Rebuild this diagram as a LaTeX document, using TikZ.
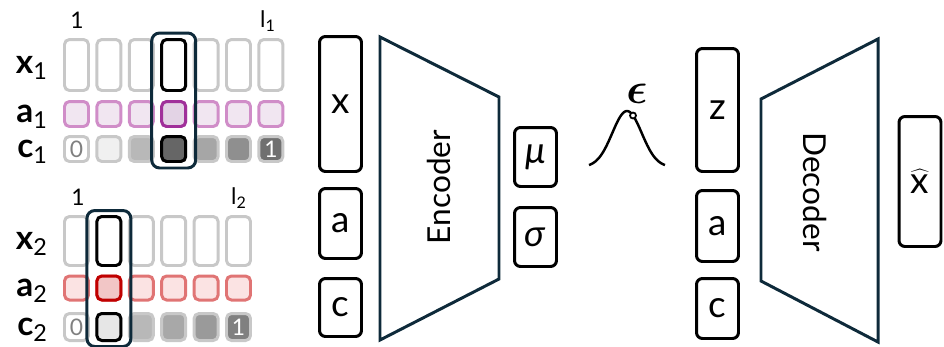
\documentclass[tikz,border=0pt]{standalone}
\usepackage{fontspec}
\setmainfont{Lato}
\usetikzlibrary{fit}

\definecolor{cellgray}{HTML}{C8C8C8}
\definecolor{navy}{HTML}{0E2A3A}
\definecolor{plum}{HTML}{D08DC8}
\definecolor{plumfill}{HTML}{F1E6F1}
\definecolor{plumdark}{HTML}{A0309A}
\definecolor{plumsel}{HTML}{E3D3E5}
\definecolor{rose}{HTML}{E07474}
\definecolor{rosefill}{HTML}{FBE3E3}
\definecolor{rosedark}{HTML}{C00000}
\definecolor{rosesel}{HTML}{F2C6C6}
\definecolor{numgray}{HTML}{808080}
% shades of the c rows
\definecolor{ca}{HTML}{FFFFFF}
\definecolor{cb}{HTML}{F0F0F0}
\definecolor{cc}{HTML}{B8B8B8}
\definecolor{cd}{HTML}{666666}
\definecolor{ce}{HTML}{A6A6A6}
\definecolor{cf}{HTML}{8F8F8F}
\definecolor{cg}{HTML}{707070}
\definecolor{db}{HTML}{E6E6E6}
\definecolor{dc}{HTML}{B8B8B8}
\definecolor{dd}{HTML}{A8A8A8}
\definecolor{de}{HTML}{9A9A9A}
\definecolor{df}{HTML}{808080}

\tikzset{
  cell/.style={draw=cellgray, fill=white, line width=1.7pt, rounded corners=2.8pt,
    minimum width=0.48cm, inner sep=0pt},
  bigbox/.style={draw=black, line width=1.7pt, rounded corners=3.4pt, minimum width=0.84cm,
    inner sep=0pt, font=\fontsize{21}{25}\selectfont},
  selframe/.style={draw=navy, line width=1.7pt, rounded corners=4.5pt, inner xsep=0.17cm},
  rowlabel/.style={font=\fontsize{19}{22}\selectfont, anchor=base east},
  toplabel/.style={font=\fontsize{13}{15}\selectfont},
  cnum/.style={font=\fontsize{13}{15}\selectfont, inner sep=0pt},
  block/.style={draw=navy, line width=1.7pt, line join=miter},
}

\begin{document}
\begin{tikzpicture}[x=0.02cm, y=-0.02cm]
  \useasboundingbox (0,0) rectangle (944,346);

  % first sequence
  \node [toplabel] (one1) at (77,20) {1};
  \node [toplabel] (len1) at (268,21) {l\textsubscript{1}};
  \node [rowlabel] (xlab1) at (54,73) {\textbf{x}\textsubscript{1}};
  \node [rowlabel] (alab1) at (54,122) {\textbf{a}\textsubscript{1}};
  \node [rowlabel] (clab1) at (54,157) {\textbf{c}\textsubscript{1}};
  \foreach \i/\cf in {1/ca,2/cb,3/cc,4/cd,5/ce,6/cf,7/cg} {
    \node [cell, minimum height=1.02cm] (x1-\i) at ({76.5+32.4*(\i-1)},65) {};
    \node [cell, minimum height=0.5cm, draw=plum, fill=plumfill] (a1-\i) at ({76.5+32.4*(\i-1)},114) {};
    \node [cell, minimum height=0.5cm, fill=\cf] (c1-\i) at ({76.5+32.4*(\i-1)},149) {};
  }
  \node [cell, minimum height=1.02cm, draw=black] (x1-sel) at (x1-4) {};
  \node [cell, minimum height=0.5cm, draw=plumdark, fill=plumsel] (a1-sel) at (a1-4) {};
  \node [cell, minimum height=0.5cm, draw=black, fill=cd] (c1-sel) at (c1-4) {};
  \node [cnum, text=numgray] (c1-zero) at (c1-1) {0};
  \node [cnum, text=white] (c1-one) at (c1-7) {1};
  \node [selframe, inner ysep=0.1cm, fit=(x1-4)(c1-4)] (sel1) {};

  % second sequence
  \node [toplabel] (one2) at (78,197) {1};
  \node [toplabel] (len2) at (239,198) {l\textsubscript{2}};
  \node [rowlabel] (xlab2) at (54,249) {\textbf{x}\textsubscript{2}};
  \node [rowlabel] (alab2) at (54,296) {\textbf{a}\textsubscript{2}};
  \node [rowlabel] (clab2) at (54,335) {\textbf{c}\textsubscript{2}};
  \foreach \i/\cf in {1/ca,2/db,3/dc,4/dd,5/de,6/df} {
    \node [cell, minimum height=0.98cm] (x2-\i) at ({76.5+32.4*(\i-1)},241) {};
    \node [cell, minimum height=0.48cm, draw=rose, fill=rosefill] (a2-\i) at ({76.5+32.4*(\i-1)},288) {};
    \node [cell, minimum height=0.54cm, fill=\cf] (c2-\i) at ({76.5+32.4*(\i-1)},327) {};
  }
  \node [cell, minimum height=0.98cm, draw=black] (x2-sel) at (x2-2) {};
  \node [cell, minimum height=0.48cm, draw=rosedark, fill=rosesel] (a2-sel) at (a2-2) {};
  \node [cell, minimum height=0.54cm, draw=black, fill=db] (c2-sel) at (c2-2) {};
  \node [cnum, text=numgray] (c2-zero) at (c2-1) {0};
  \node [cnum, text=white] (c2-one) at (c2-6) {1};
  \node [selframe, inner ysep=0.09cm, fit=(x2-2)(c2-2)] (sel2) {};

  % encoder
  \node [bigbox, minimum height=2.7cm] (encx) at (340.5,104) {x};
  \node [bigbox, minimum height=1.4cm] (enca) at (340.5,223.5) {a};
  \node [bigbox, minimum height=1.16cm] (encc) at (340.5,307.5) {c};
  \draw [block] (380,37) -- (499,97) -- (499,279) -- (380,340) -- cycle;
  \node [rotate=90, font=\fontsize{18}{22}\selectfont] (enc) at (439,187) {Encoder};
  \node [bigbox, minimum height=1.18cm] (mu) at (535.5,157) {\textit{μ}};
  \node [bigbox, minimum height=1.18cm] (sigma) at (535.5,237) {\textit{σ}};

  % noise
  \draw [line width=1.4pt] plot [domain=-1:1, samples=60, smooth]
    ({627+38*\x}, {167-56*exp(-((\x)*(\x))/0.3)});
  \node [circle, draw, fill=white, line width=1pt, inner sep=0pt, minimum size=0.12cm] (epsdot) at (633,115.5) {};
  \node [font=\fontsize{30}{34}\selectfont\boldmath] (eps) at (637,94) {$\epsilon$};

  % decoder
  \node [bigbox, minimum height=2.46cm] (decz) at (717.5,110) {z};
  \node [bigbox, minimum height=1.42cm] (deca) at (717.5,226) {a};
  \node [bigbox, minimum height=1.2cm] (decc) at (717.5,308.5) {c};
  \draw [block] (761,99) -- (878,39) -- (878,342) -- (761,281) -- cycle;
  \node [rotate=-90, font=\fontsize{18}{22}\selectfont] (dec) at (815,192) {Decoder};
  \node [bigbox, minimum height=2.6cm] (xhat) at (920,181.5) {$\widehat{\mbox{x}}$};
\end{tikzpicture}
\end{document}
